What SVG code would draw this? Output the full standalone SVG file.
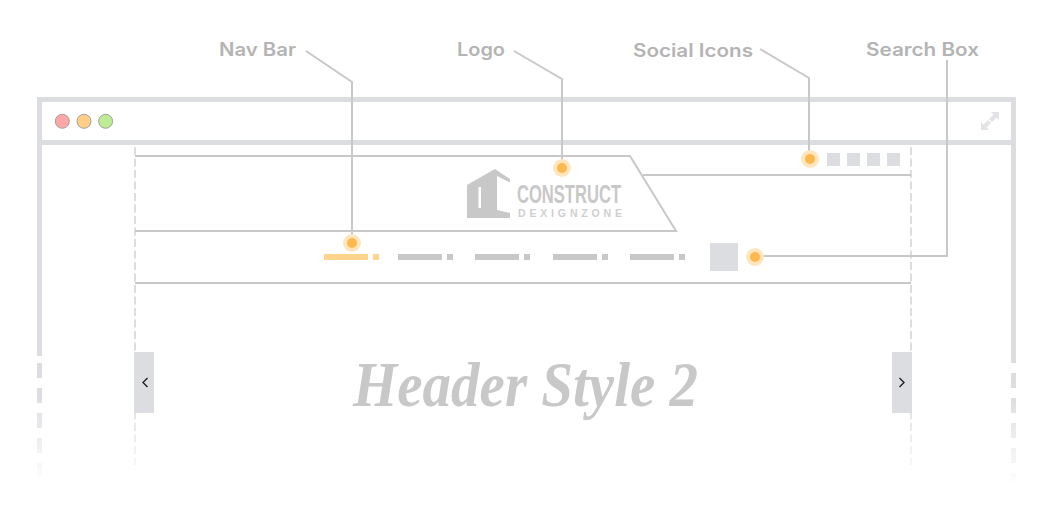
<svg xmlns="http://www.w3.org/2000/svg" width="1061" height="530" viewBox="0 0 1061 530">
<style>
.lbl{font-family:"Inter","Liberation Sans",sans-serif;font-weight:600;font-size:18px;fill:#b4b4b4}
.wire{fill:none;stroke:#c8c8c8;stroke-width:2}
.frame{fill:#dcdde1}
.dash{fill:none;stroke:#dcdde1;stroke-width:2;stroke-dasharray:8 3.5}
.halo{fill:#ffe6bd}
.core{fill:#ffb84d}
.light{stroke:#a0a0a0;stroke-width:1}
.nav{fill:#c8c8c8}
.navon{fill:#ffd48c}
.chev{fill:none;stroke:#222;stroke-width:1.4}
</style>
<defs>
<linearGradient id="fade" gradientUnits="userSpaceOnUse" x1="0" y1="395" x2="0" y2="485">
<stop offset="0" stop-color="#fff"/><stop offset="1" stop-color="#000"/>
</linearGradient>
<mask id="fadeMask" maskUnits="userSpaceOnUse" x="0" y="0" width="1061" height="530">
<rect width="1061" height="530" fill="url(#fade)"/>
</mask>
</defs>
<rect width="1061" height="530" fill="#fff"/>
<g id="window" mask="url(#fadeMask)">
<rect class="frame" x="37" y="97" width="979" height="5"/>
<rect class="frame" x="37" y="140" width="979" height="5"/>
<rect class="frame" x="37" y="97" width="5" height="259"/>
<rect class="frame" x="1011" y="97" width="5" height="266"/>
<rect class="frame" x="37" y="363" width="5" height="15"/>
<rect class="frame" x="37" y="388" width="5" height="15"/>
<rect class="frame" x="37" y="413" width="5" height="15"/>
<rect class="frame" x="37" y="438" width="5" height="15"/>
<rect class="frame" x="37" y="463" width="5" height="15"/>
<rect class="frame" x="1011" y="373" width="5" height="15"/>
<rect class="frame" x="1011" y="398" width="5" height="15"/>
<rect class="frame" x="1011" y="423" width="5" height="15"/>
<rect class="frame" x="1011" y="448" width="5" height="15"/>
<rect class="frame" x="1011" y="473" width="5" height="15"/>
<path class="dash" d="M135 147V470M911 147V470"/>
</g>
<g id="traffic-lights">
<circle class="light" cx="62.3" cy="121.3" r="7" fill="#ffa6a6"/>
<circle class="light" cx="84" cy="121.3" r="7" fill="#ffcf87"/>
<circle class="light" cx="105.6" cy="121.3" r="7" fill="#bdec94"/>
</g>
<g id="expand-icon" fill="#e2e3e6">
<polygon points="991,112 999,112 999,120 996.500,117.500 992,122 989,119 993.500,114.500"/>
<polygon points="981,122 983.500,124.500 988,120 991,123 986.500,127.500 989,130 981,130"/>
</g>
<g id="header-shapes">
<path class="wire" d="M135 156H630L676 231H135"/>
<path class="wire" d="M643 175H911"/>
<path class="wire" d="M135 283H911"/>
</g>
<g id="logo">
<path fill="#c8c8c8" fill-rule="evenodd" d="M467 185L480 177.500L495 169L510 179V182.500L497 176V210L510 213V218H467ZM478.500 187V208H481V187Z"/>
<text x="517" y="203" font-family="'Liberation Sans Narrow','Liberation Sans',sans-serif" font-weight="700" font-size="26" fill="#c8c8c8" textLength="104" lengthAdjust="spacingAndGlyphs">CONSTRUCT</text>
<text x="518" y="217" font-family="'Liberation Sans Narrow','Liberation Sans',sans-serif" font-weight="700" font-size="10.500" fill="#cfcfcf" textLength="104" lengthAdjust="spacing">DEXIGNZONE</text>
</g>
<g id="social-icons" class="frame">
<rect x="827" y="153" width="13" height="13"/>
<rect x="847" y="153" width="13" height="13"/>
<rect x="867" y="153" width="13" height="13"/>
<rect x="887" y="153" width="13" height="13"/>
</g>
<g id="nav-bar">
<rect class="navon" x="324" y="254" width="44" height="6"/>
<rect class="navon" x="373" y="254" width="6" height="6"/>
<rect class="nav" x="398" y="254" width="44" height="6"/>
<rect class="nav" x="447" y="254" width="6" height="6"/>
<rect class="nav" x="475" y="254" width="44" height="6"/>
<rect class="nav" x="524" y="254" width="6" height="6"/>
<rect class="nav" x="553" y="254" width="44" height="6"/>
<rect class="nav" x="602" y="254" width="6" height="6"/>
<rect class="nav" x="630" y="254" width="44" height="6"/>
<rect class="nav" x="679" y="254" width="6" height="6"/>
</g>
<g id="search-box"><rect class="frame" x="710" y="243" width="28" height="28"/></g>
<g id="slider-prev"><rect class="frame" x="134" y="352" width="20" height="61"/><path class="chev" d="M147.500 378L143 382.500L147.500 387"/></g>
<g id="slider-next"><rect class="frame" x="892" y="352" width="20" height="61"/><path class="chev" d="M899.500 378L904 382.500L899.500 387"/></g>
<g id="title">
<text x="353" y="406" font-family="'Liberation Serif',serif" font-style="italic" font-weight="700" font-size="64" fill="#c8c8c8" textLength="345" lengthAdjust="spacingAndGlyphs">Header Style 2</text>
</g>
<g id="connectors">
<path class="wire" d="M306 51L352 82V236"/>
<path class="wire" d="M514 51L562 79V161"/>
<path class="wire" d="M760 49L809 78V152"/>
<path class="wire" d="M947 60V256H762"/>
</g>
<g id="marker-nav"><circle class="halo" cx="352" cy="243" r="9"/><circle class="core" cx="352" cy="243" r="5"/></g>
<g id="marker-logo"><circle class="halo" cx="562" cy="168" r="9"/><circle class="core" cx="562" cy="168" r="5"/></g>
<g id="marker-social"><circle class="halo" cx="810" cy="159" r="9"/><circle class="core" cx="810" cy="159" r="5"/></g>
<g id="marker-search"><circle class="halo" cx="755" cy="257" r="9"/><circle class="core" cx="755" cy="257" r="5"/></g>
<g id="labels">
<text class="lbl" x="219" y="56" textLength="77" lengthAdjust="spacingAndGlyphs">Nav Bar</text>
<text class="lbl" x="457" y="56" textLength="48" lengthAdjust="spacingAndGlyphs">Logo</text>
<text class="lbl" x="633" y="57" textLength="120" lengthAdjust="spacingAndGlyphs">Social Icons</text>
<text class="lbl" x="866" y="56" textLength="113" lengthAdjust="spacingAndGlyphs">Search Box</text>
</g>
</svg>
